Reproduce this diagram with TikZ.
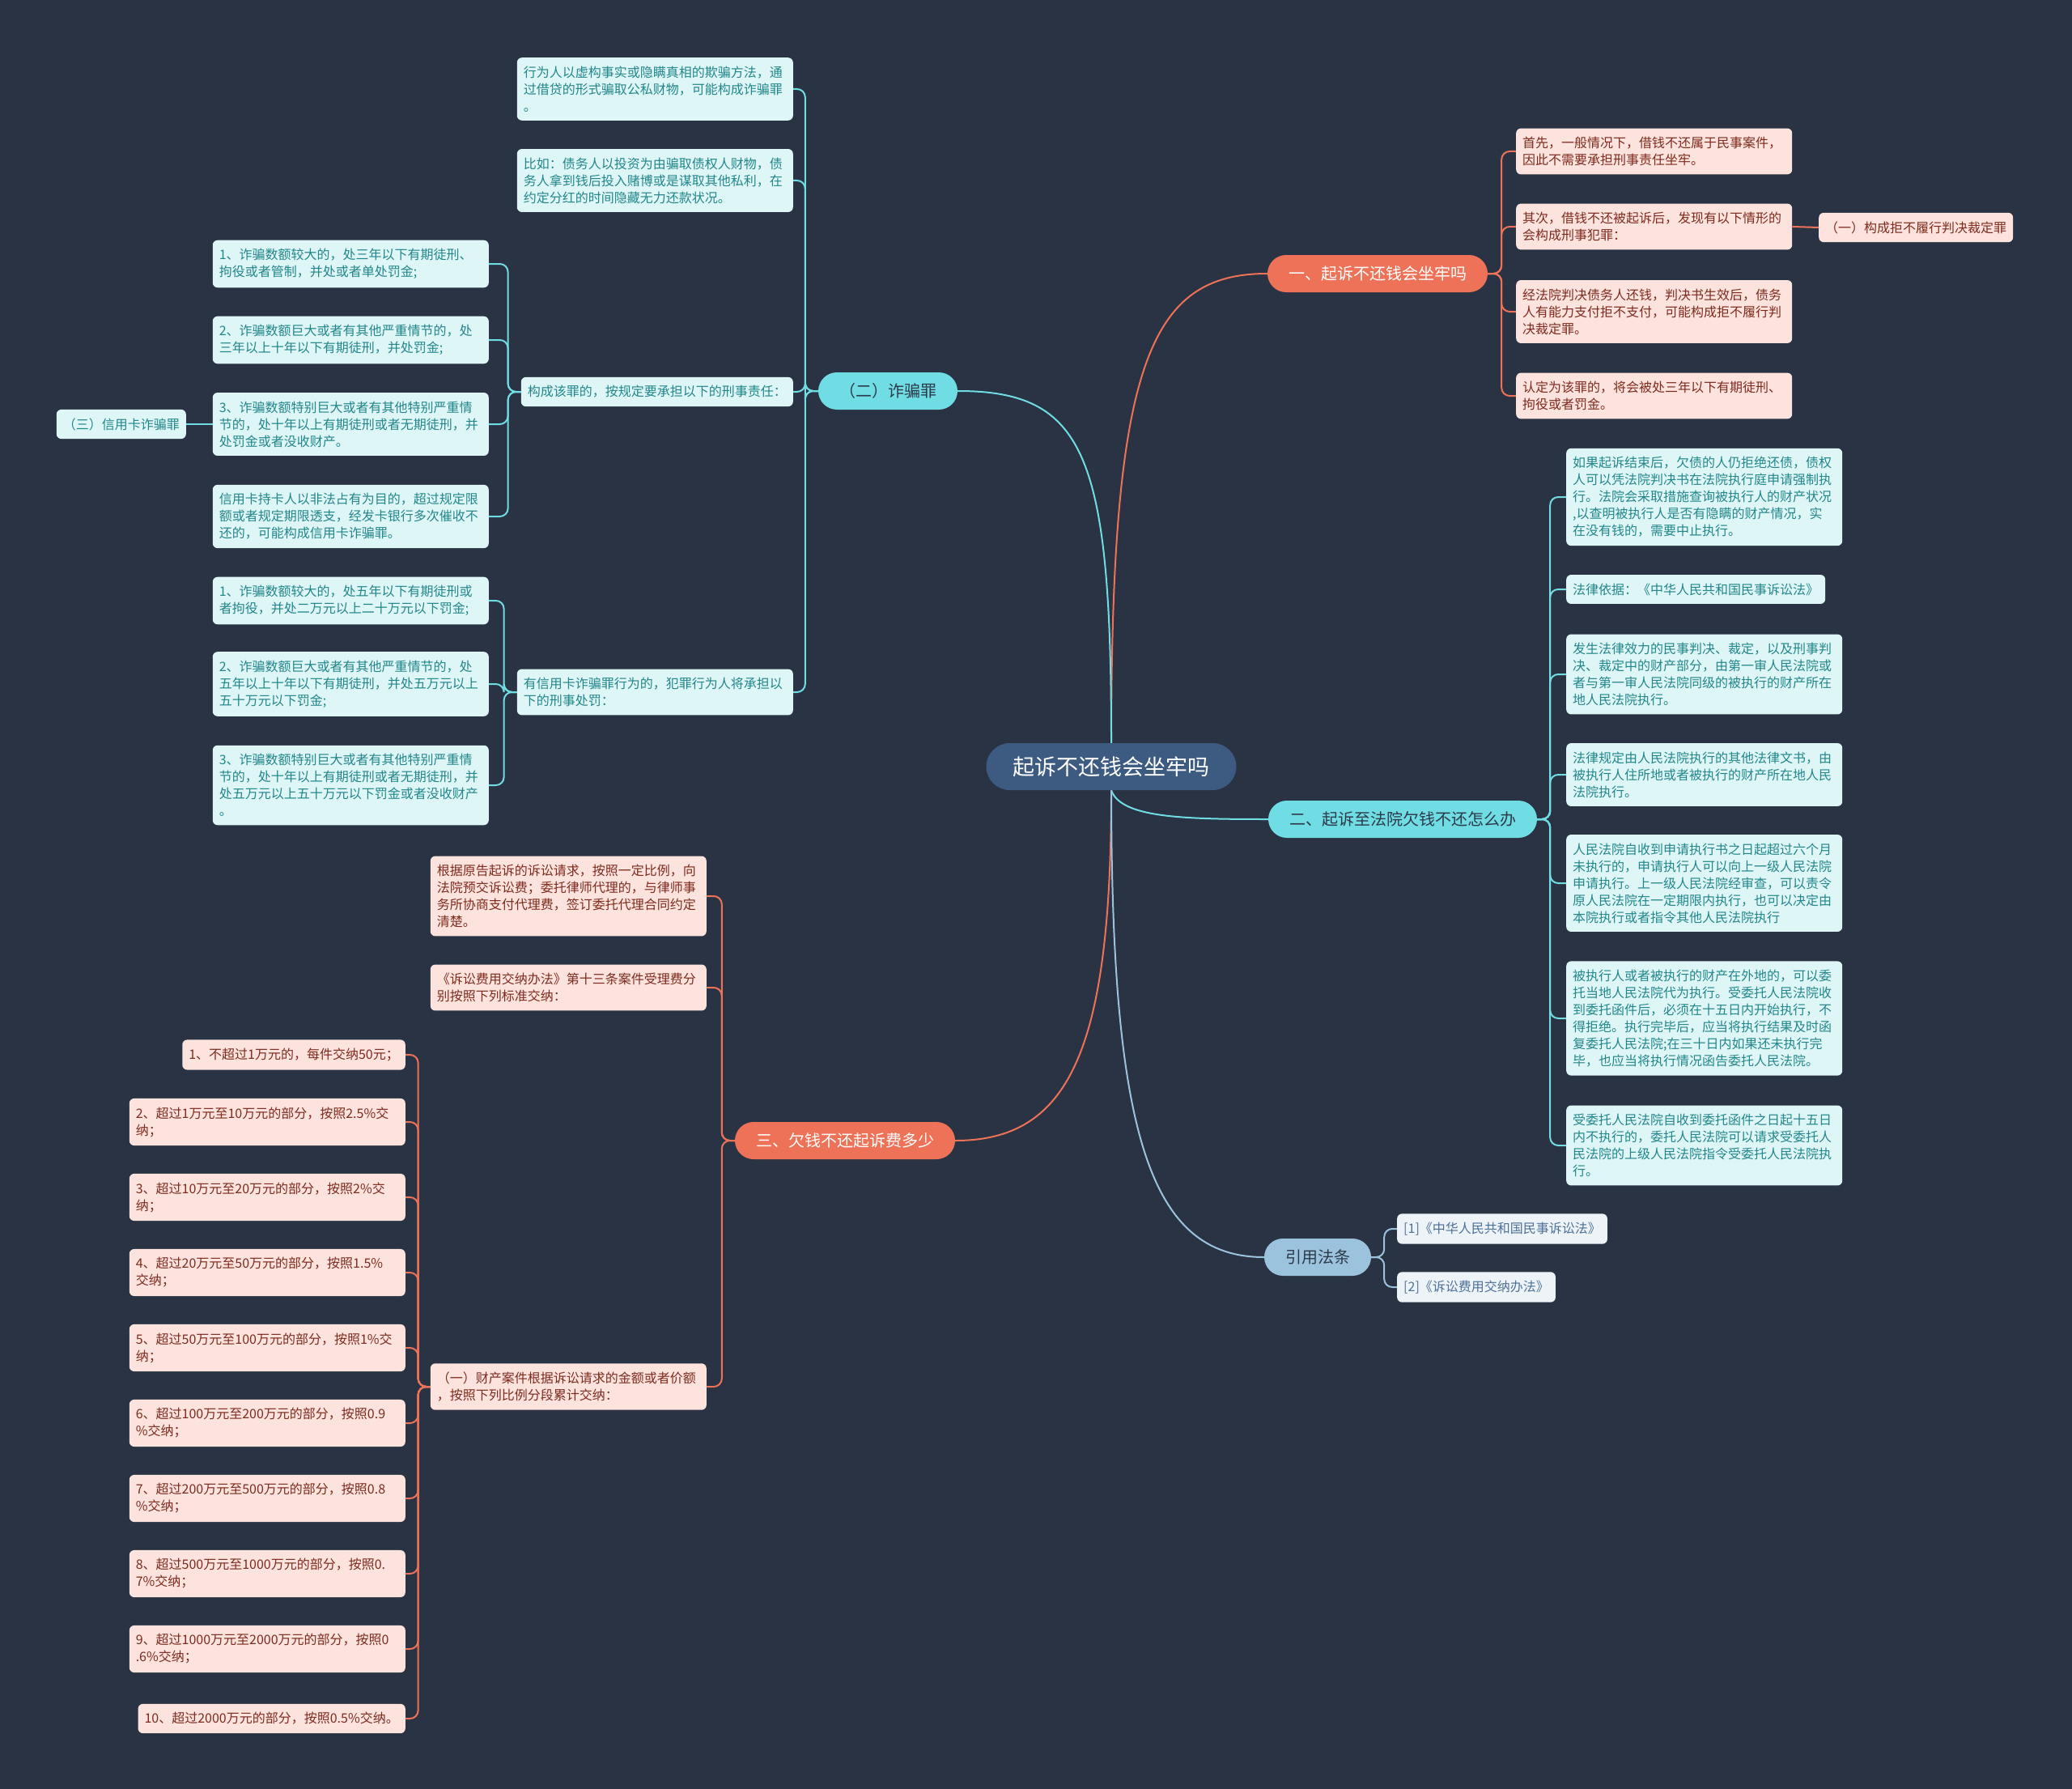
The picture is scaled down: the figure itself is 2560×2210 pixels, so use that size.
\documentclass[tikz,border=0pt]{standalone}
\usepackage{fontspec}
\setmainfont{Noto Sans CJK SC}
\usetikzlibrary{backgrounds}
\definecolor{bg}{HTML}{2A3343}
\definecolor{rootfill}{HTML}{3D5A80}
\definecolor{coral}{HTML}{EE7257}
\definecolor{cyanb}{HTML}{70DCE3}
\definecolor{blueb}{HTML}{9CC3DD}
\definecolor{cyanleaf}{HTML}{DFF6F6}
\definecolor{cyantext}{HTML}{22868A}
\definecolor{pinkleaf}{HTML}{FCE3DD}
\definecolor{pinktext}{HTML}{7E2B1E}
\definecolor{blueleaf}{HTML}{EEF3F8}
\definecolor{bluetext}{HTML}{4D7197}
\definecolor{darktext}{HTML}{2C3A4A}

\begin{document}
\begin{tikzpicture}[x=1pt,y=-1pt,
	root/.style={fill=rootfill, text=white, rounded corners=29pt, minimum height=58pt, inner xsep=33pt, font=\fontsize{27}{27}\selectfont},
	branch/.style={rounded corners=23pt, minimum height=46pt, inner xsep=26pt, font=\fontsize{20}{20}\selectfont},
	leaf/.style={rounded corners=6pt, inner xsep=8pt, inner ysep=10.5pt, align=left, font=\fontsize{16}{21}\selectfont},
	cleaf/.style={leaf, fill=cyanleaf, text=cyantext},
	pleaf/.style={leaf, fill=pinkleaf, text=pinktext},
	bleaf/.style={leaf, fill=blueleaf, text=bluetext},
	wbox/.style={text width=325pt},
	coralline/.style={draw=coral, line width=2pt},
	cyanline/.style={draw=cyanb, line width=2pt},
	blueline/.style={draw=blueb, line width=2pt}]
	\useasboundingbox (0,0) rectangle (2560,2210);
	\begin{scope}[on background layer]
		\fill[bg] (0,0) rectangle (2560,2210);
	\end{scope}

	\node[root] (root) at (1373,947) {起诉不还钱会坐牢吗};
	\node[branch, fill=coral, text=white] (yi) at (1702,338) {一、起诉不还钱会坐牢吗};
	\node[branch, fill=cyanb, text=darktext] (er) at (1733,1012) {二、起诉至法院欠钱不还怎么办};
	\node[branch, fill=blueb, text=darktext] (yf) at (1628,1553) {引用法条};
	\node[branch, fill=cyanb, text=darktext] (zp) at (1097,483) {（二）诈骗罪};
	\node[branch, fill=coral, text=white] (san) at (1044,1409) {三、欠钱不还起诉费多少};

	% 一
	\node[pleaf, wbox, anchor=west] (l1) at (1873,187) {首先，一般情况下，借钱不还属于民事案件，\\因此不需要承担刑事责任坐牢。};
	\node[pleaf, wbox, anchor=west] (l2) at (1873,280) {其次，借钱不还被起诉后，发现有以下情形的\\会构成刑事犯罪：};
	\node[pleaf, anchor=west] (j1) at (2247,281) {（一）构成拒不履行判决裁定罪};
	\node[pleaf, wbox, anchor=west] (l3) at (1873,385) {经法院判决债务人还钱，判决书生效后，债务\\人有能力支付拒不支付，可能构成拒不履行判\\决裁定罪。};
	\node[pleaf, wbox, anchor=west] (l4) at (1873,489) {认定为该罪的，将会被处三年以下有期徒刑、\\拘役或者罚金。};

	% （二）诈骗罪
	\node[cleaf, wbox, anchor=east] (a1) at (980,110) {行为人以虚构事实或隐瞒真相的欺骗方法，通\\过借贷的形式骗取公私财物，可能构成诈骗罪\\。};
	\node[cleaf, wbox, anchor=east] (a2) at (980,223) {比如：债务人以投资为由骗取债权人财物，债\\务人拿到钱后投入赌博或是谋取其他私利，在\\约定分红的时间隐藏无力还款状况。};
	\node[cleaf, anchor=east] (a3) at (980,484) {构成该罪的，按规定要承担以下的刑事责任：};
	\node[cleaf, wbox, anchor=east] (a4) at (980,855) {有信用卡诈骗罪行为的，犯罪行为人将承担以\\下的刑事处罚：};
	\node[cleaf, wbox, anchor=east] (b1) at (604,326) {1、诈骗数额较大的，处三年以下有期徒刑、\\拘役或者管制，并处或者单处罚金;};
	\node[cleaf, wbox, anchor=east] (b2) at (604,420) {2、诈骗数额巨大或者有其他严重情节的，处\\三年以上十年以下有期徒刑，并处罚金;};
	\node[cleaf, wbox, anchor=east] (b3) at (604,524) {3、诈骗数额特别巨大或者有其他特别严重情\\节的，处十年以上有期徒刑或者无期徒刑，并\\处罚金或者没收财产。};
	\node[cleaf, wbox, anchor=east] (b4) at (604,638) {信用卡持卡人以非法占有为目的，超过规定限\\额或者规定期限透支，经发卡银行多次催收不\\还的，可能构成信用卡诈骗罪。};
	\node[cleaf, anchor=east] (xy) at (230,524) {（三）信用卡诈骗罪};
	\node[cleaf, wbox, anchor=east] (c1) at (604,742) {1、诈骗数额较大的，处五年以下有期徒刑或\\者拘役，并处二万元以上二十万元以下罚金;};
	\node[cleaf, wbox, anchor=east] (c2) at (604,845) {2、诈骗数额巨大或者有其他严重情节的，处\\五年以上十年以下有期徒刑，并处五万元以上\\五十万元以下罚金;};
	\node[cleaf, wbox, anchor=east] (c3) at (604,970) {3、诈骗数额特别巨大或者有其他特别严重情\\节的，处十年以上有期徒刑或者无期徒刑，并\\处五万元以上五十万元以下罚金或者没收财产\\。};

	% 二
	\node[cleaf, wbox, anchor=west] (d1) at (1935,614) {如果起诉结束后，欠债的人仍拒绝还债，债权\\人可以凭法院判决书在法院执行庭申请强制执\\行。法院会采取措施查询被执行人的财产状况\\,以查明被执行人是否有隐瞒的财产情况，实\\在没有钱的，需要中止执行。};
	\node[cleaf, anchor=west] (d2) at (1935,728) {法律依据：《中华人民共和国民事诉讼法》};
	\node[cleaf, wbox, anchor=west] (d3) at (1935,833) {发生法律效力的民事判决、裁定，以及刑事判\\决、裁定中的财产部分，由第一审人民法院或\\者与第一审人民法院同级的被执行的财产所在\\地人民法院执行。};
	\node[cleaf, wbox, anchor=west] (d4) at (1935,957) {法律规定由人民法院执行的其他法律文书，由\\被执行人住所地或者被执行的财产所在地人民\\法院执行。};
	\node[cleaf, wbox, anchor=west] (d5) at (1935,1091) {人民法院自收到申请执行书之日起超过六个月\\未执行的，申请执行人可以向上一级人民法院\\申请执行。上一级人民法院经审查，可以责令\\原人民法院在一定期限内执行，也可以决定由\\本院执行或者指令其他人民法院执行};
	\node[cleaf, wbox, anchor=west] (d6) at (1935,1258) {被执行人或者被执行的财产在外地的，可以委\\托当地人民法院代为执行。受委托人民法院收\\到委托函件后，必须在十五日内开始执行，不\\得拒绝。执行完毕后，应当将执行结果及时函\\复委托人民法院;在三十日内如果还未执行完\\毕，也应当将执行情况函告委托人民法院。};
	\node[cleaf, wbox, anchor=west] (d7) at (1935,1415) {受委托人民法院自收到委托函件之日起十五日\\内不执行的，委托人民法院可以请求受委托人\\民法院的上级人民法院指令受委托人民法院执\\行。};

	% 三
	\node[pleaf, wbox, anchor=east] (e1) at (873,1107) {根据原告起诉的诉讼请求，按照一定比例，向\\法院预交诉讼费；委托律师代理的，与律师事\\务所协商支付代理费，签订委托代理合同约定\\清楚。};
	\node[pleaf, wbox, anchor=east] (e2) at (873,1220) {《诉讼费用交纳办法》第十三条案件受理费分\\别按照下列标准交纳：};
	\node[pleaf, wbox, anchor=east] (e3) at (873,1713) {（一）财产案件根据诉讼请求的金额或者价额\\，按照下列比例分段累计交纳：};
	\node[pleaf, anchor=east] (f1) at (501,1303) {1、不超过1万元的，每件交纳50元；};
	\node[pleaf, wbox, anchor=east] (f2) at (501,1386) {2、超过1万元至10万元的部分，按照2.5\%交\\纳；};
	\node[pleaf, wbox, anchor=east] (f3) at (501,1479) {3、超过10万元至20万元的部分，按照2\%交\\纳；};
	\node[pleaf, wbox, anchor=east] (f4) at (501,1572) {4、超过20万元至50万元的部分，按照1.5\%\\交纳；};
	\node[pleaf, wbox, anchor=east] (f5) at (501,1665) {5、超过50万元至100万元的部分，按照1\%交\\纳；};
	\node[pleaf, wbox, anchor=east] (f6) at (501,1758) {6、超过100万元至200万元的部分，按照0.9\\\%交纳；};
	\node[pleaf, wbox, anchor=east] (f7) at (501,1851) {7、超过200万元至500万元的部分，按照0.8\\\%交纳；};
	\node[pleaf, wbox, anchor=east] (f8) at (501,1944) {8、超过500万元至1000万元的部分，按照0.\\7\%交纳；};
	\node[pleaf, wbox, anchor=east] (f9) at (501,2037) {9、超过1000万元至2000万元的部分，按照0\\.6\%交纳；};
	\node[pleaf, anchor=east] (f10) at (501,2123) {10、超过2000万元的部分，按照0.5\%交纳。};

	% 引用法条
	\node[bleaf, anchor=west] (g1) at (1726,1518) {[1]《中华人民共和国民事诉讼法》};
	\node[bleaf, anchor=west] (g2) at (1726,1590) {[2]《诉讼费用交纳办法》};

	\begin{scope}[on background layer]
		\draw[coralline] (root.north) .. controls (1373,450) and (1420,338) .. (yi.west);
		\draw[cyanline] (root.north) .. controls (1373,560) and (1340,483) .. (zp.east);
		\draw[coralline] (root.south) .. controls (1373,1300) and (1320,1409) .. (san.east);
		\draw[cyanline] (root.south) .. controls (1385,1010) and (1460,1012) .. (er.west);
		\draw[blueline] (root.south) .. controls (1373,1400) and (1420,1553) .. (yf.west);
		\foreach \n in {l1,l2,l3,l4}
			\draw[coralline, rounded corners=10pt] (yi.east) -- ++(17,0) |- (\n.west);
		\draw[coralline] (l2.east) -- (j1.west);
		\foreach \n in {a1,a2,a3,a4}
			\draw[cyanline, rounded corners=10pt] (zp.west) -- ++(-16,0) |- (\n.east);
		\foreach \n in {b1,b2,b3,b4}
			\draw[cyanline, rounded corners=10pt] (a3.west) -- ++(-16,0) |- (\n.east);
		\draw[cyanline] (b3.west) -- (xy.east);
		\foreach \n in {c1,c2,c3}
			\draw[cyanline, rounded corners=10pt] (a4.west) -- ++(-16,0) |- (\n.east);
		\foreach \n in {d1,d2,d3,d4,d5,d6,d7}
			\draw[cyanline, rounded corners=10pt] (er.east) -- ++(16,0) |- (\n.west);
		\foreach \n in {e1,e2,e3}
			\draw[coralline, rounded corners=10pt] (san.west) -- ++(-16,0) |- (\n.east);
		\foreach \n in {f1,f2,f3,f4,f5,f6,f7,f8,f9,f10}
			\draw[coralline, rounded corners=10pt] (e3.west) -- ++(-15,0) |- (\n.east);
		\foreach \n in {g1,g2}
			\draw[blueline, rounded corners=10pt] (yf.east) -- ++(16,0) |- (\n.west);
	\end{scope}
\end{tikzpicture}
\end{document}
